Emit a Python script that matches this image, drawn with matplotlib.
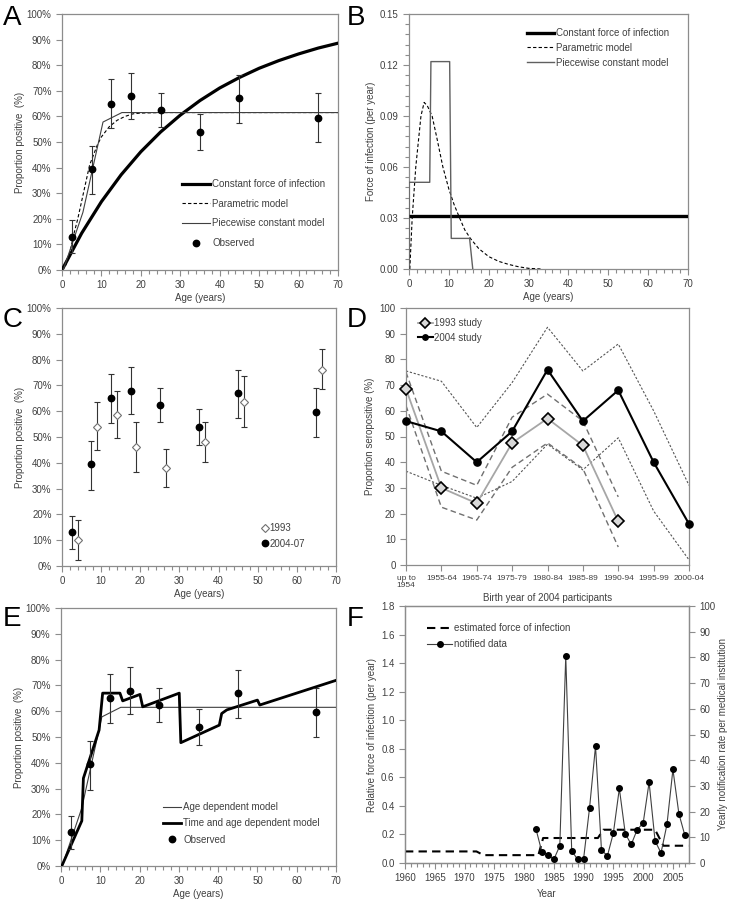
import matplotlib
matplotlib.use("Agg")
import matplotlib.pyplot as plt
from matplotlib.ticker import MultipleLocator, FuncFormatter

plt.rcParams['font.family'] = ['Liberation Sans', 'DejaVu Sans']
plt.rcParams['font.size'] = 7

# ---------------- data ----------------
# observed 2004-07
obs_age = [2.5, 7.5, 12.5, 17.5, 25, 35, 45, 65]
obs_val = [13, 39.5, 65, 68, 62.5, 54, 67, 59.5]
obs_lo = [6.5, 29.5, 55.5, 59, 56, 47, 57.5, 50]
obs_hi = [19.5, 48.5, 74.5, 77, 69, 61, 76, 69]

# observed 1993
o93_age = [4, 9, 14, 19, 26.5, 36.5, 46.5, 66.5]
o93_val = [10, 54, 58.5, 46, 38, 48, 63.5, 76]
o93_lo = [2.5, 45, 49.5, 36.5, 30.5, 40.5, 54, 68.5]
o93_hi = [18, 63.5, 68, 56, 45.5, 56, 73.5, 84]

# panel A models
const_age = [0, 5, 10, 15, 20, 25, 30, 35, 40, 45, 50, 55, 60, 65, 70]
const_val = [0, 14.4, 26.7, 37.2, 46.2, 53.9, 60.5, 66.2, 71.1, 75.2, 78.8, 81.8, 84.4, 86.7, 88.6]
param_age = [0, 1, 2, 3, 4, 5, 6, 7, 8, 9, 10, 12, 14, 16, 18, 20, 25, 70]
param_val = [0, 2, 7, 14, 20, 27, 34, 41, 45, 49, 52, 56, 58.5, 60, 61, 61.3, 61.5, 61.5]
piece_age = [0.3, 5.3, 10.4, 15.2, 70]
piece_val = [0, 22.5, 57.8, 61.5, 61.5]

# panel B force of infection
const_foi = 0.031
pfoi_age = [0.2, 0.8, 1.7, 3.0, 3.8, 4.6, 5.8, 7.0, 8.5, 10.0, 11.3, 12.7, 14.0, 15.4,
            17.5, 20, 22.5, 25, 27.5, 30, 33]
pfoi_val = [0, 0.030, 0.060, 0.090, 0.098, 0.096, 0.090, 0.077, 0.060, 0.047, 0.038, 0.030,
            0.023, 0.018, 0.012, 0.0073, 0.0045, 0.0027, 0.0013, 0.0004, 0.0]
wfoi_age = [0, 0, 5.2, 5.5, 10.2, 10.6, 15.2, 16]
wfoi_val = [0, 0.051, 0.051, 0.122, 0.122, 0.018, 0.018, 0.0]

# panel D
cohorts = ['up to\n1954', '1955-64', '1965-74', '1975-79', '1980-84', '1985-89',
           '1990-94', '1995-99', '2000-04']
s2004 = [56, 52, 40, 52, 76, 56, 68, 40, 16]
s2004_hi = [75.5, 71.5, 53.5, 71, 92.5, 75.5, 86, 60, 31]
s2004_lo = [36.5, 31, 26, 32.5, 47, 37, 49.5, 21, 2]
s1993 = [68.5, 30, 24, 47.5, 57, 46.5, 17]
s1993_hi = [75, 36.5, 31, 57.5, 66.5, 56, 26.5]
s1993_lo = [62, 22.5, 17.5, 38, 47.5, 37.5, 7]

# panel E
tad_age = [0.2, 5.3, 5.7, 9.7, 10.6, 15.0, 15.7, 20.1, 20.8, 30.1, 30.5, 40.3, 40.9, 42.2,
           50.0, 50.6, 70.5]
tad_val = [0, 17.5, 34, 52.7, 67, 67, 64, 66.5, 61.7, 67, 47.8, 54.6, 59.1, 60.5, 64.3,
           62.4, 72.2]

# panel F
foi_year = [1960, 1972.0, 1973.2, 1982.4, 1983.2, 1992.4, 1993.3, 2002.0, 2003.4, 2007.6]
foi_val = [0.081, 0.081, 0.055, 0.055, 0.175, 0.175, 0.233, 0.233, 0.121, 0.121]
not_year = list(range(1982, 2008))
not_val = [13.2, 4.2, 3.3, 1.4, 6.7, 80.5, 4.7, 1.4, 1.7, 21.5, 45.5, 5.0, 2.8, 11.7,
           29.0, 11.4, 7.2, 13.0, 15.5, 31.4, 8.6, 3.9, 15.0, 36.4, 19.2, 10.8]

# ---------------- figure ----------------
W, H = 730, 902
fig = plt.figure(figsize=(W / 100, H / 100), dpi=100)

TXT = '#404040'
SP = '#8c8c8c'


def axes_px(l, r, t, b):
    return fig.add_axes([l / W, 1 - b / H, (r - l) / W, (b - t) / H])


def style(ax):
    for s in ax.spines.values():
        s.set_color(SP)
        s.set_linewidth(0.9)
    ax.tick_params(which='both', direction='out', colors=SP, labelcolor=TXT, labelsize=7,
                   width=0.8)
    ax.tick_params(which='major', length=4)
    ax.tick_params(which='minor', length=3)


def letter(x, ybase, s):
    fig.text(x / W, 1 - ybase / H, s, fontsize=20, va='baseline', ha='left', color='black')


def legend(ax, x, ytop, **kw):
    opts = dict(loc='upper left', bbox_to_anchor=(x / W, 1 - ytop / H),
                bbox_transform=fig.transFigure, frameon=False, borderpad=0,
                borderaxespad=0, fontsize=7, handletextpad=0.2)
    opts.update(kw)
    leg = ax.legend(**opts)
    for t in leg.get_texts():
        t.set_color(TXT)
    return leg


pct = FuncFormatter(lambda v, p: '%d%%' % round(v))


def age_axes(ax):
    ax.set_xlim(0, 70)
    ax.set_ylim(0, 100)
    ax.xaxis.set_major_locator(MultipleLocator(10))
    ax.xaxis.set_minor_locator(MultipleLocator(2))
    ax.yaxis.set_major_locator(MultipleLocator(10))
    ax.yaxis.set_major_formatter(pct)
    ax.set_xlabel('Age (years)', color=TXT, fontsize=7, labelpad=2)
    ax.set_ylabel('Proportion positive  (%)', color=TXT, fontsize=7, labelpad=1)


def observed(ax, label='Observed'):
    ax.errorbar(obs_age, obs_val,
                yerr=[[v - l for v, l in zip(obs_val, obs_lo)],
                      [h - v for v, h in zip(obs_val, obs_hi)]],
                fmt='none', ecolor='#333333', elinewidth=0.8, capsize=2.2, capthick=0.8,
                zorder=4)
    ax.plot(obs_age, obs_val, 'o', color='black', ms=4.6, ls='none', label=label, zorder=5)


# ---- A ----
axA = axes_px(62, 338, 14, 270)
style(axA)
age_axes(axA)
axA.plot(const_age, const_val, color='black', lw=2.3, label='Constant force of infection',
         zorder=3)
axA.plot(param_age, param_val, color='black', lw=0.8, ls=(0, (3, 2)), label='Parametric model',
         zorder=3)
axA.plot(piece_age, piece_val, color='#404040', lw=0.8, label='Piecewise constant model',
         zorder=3)
observed(axA)
legend(axA, 182, 179, handlelength=2.9, labelspacing=1.0)
letter(3, 25, 'A')

# ---- B ----
axB = axes_px(409, 688, 14, 269)
style(axB)
axB.set_xlim(0, 70)
axB.set_ylim(0, 0.15)
axB.xaxis.set_major_locator(MultipleLocator(10))
axB.xaxis.set_minor_locator(MultipleLocator(2))
axB.yaxis.set_major_locator(MultipleLocator(0.03))
axB.yaxis.set_minor_locator(MultipleLocator(0.006))
axB.yaxis.set_major_formatter(FuncFormatter(lambda v, p: '%.2f' % v))
axB.plot([0, 70], [const_foi, const_foi], color='black', lw=2.4,
         label='Constant force of infection', zorder=3)
axB.plot(pfoi_age, pfoi_val, color='black', lw=0.8, ls=(0, (3, 2)), label='Parametric model',
         zorder=3)
axB.plot(wfoi_age, wfoi_val, color='#606060', lw=1.0, label='Piecewise constant model',
         zorder=3)
axB.set_xlabel('Age (years)', color=TXT, fontsize=7, labelpad=2)
axB.set_ylabel('Force of infection (per year)', color=TXT, fontsize=7, labelpad=3)
legend(axB, 527, 28, handlelength=2.8, labelspacing=0.5)
letter(347, 25, 'B')

# ---- C ----
axC = axes_px(62, 336, 308, 566)
style(axC)
age_axes(axC)
axC.errorbar(o93_age, o93_val,
             yerr=[[v - l for v, l in zip(o93_val, o93_lo)],
                   [h - v for v, h in zip(o93_val, o93_hi)]],
             fmt='none', ecolor='#333333', elinewidth=0.8, capsize=2.2, capthick=0.8, zorder=4)
axC.plot(o93_age, o93_val, 'D', mfc='white', mec='#707070', mew=0.8, ms=4.3, ls='none',
         label='1993', zorder=5)
observed(axC, label='2004-07')
legend(axC, 262, 523, handlelength=0.6, handletextpad=0.15, labelspacing=0.6)
letter(3, 327, 'C')

# ---- D ----
axD = axes_px(406, 689, 308, 565)
style(axD)
xi = list(range(len(cohorts)))
axD.set_xlim(0, 8)
axD.set_ylim(0, 100)
axD.yaxis.set_major_locator(MultipleLocator(10))
axD.set_xticks(xi)
axD.set_xticklabels(cohorts, fontsize=6, linespacing=0.9)
x93 = xi[:len(s1993)]
axD.plot(xi, s2004_hi, color='#555555', lw=0.8, ls=(0, (2, 1.6)), zorder=2)
axD.plot(xi, s2004_lo, color='#555555', lw=0.8, ls=(0, (2, 1.6)), zorder=2)
axD.plot(x93, s1993_hi, color='#707070', lw=1.0, ls=(0, (4, 2.5)), zorder=2)
axD.plot(x93, s1993_lo, color='#707070', lw=1.0, ls=(0, (4, 2.5)), zorder=2)
axD.plot(x93, s1993, color='#a6a6a6', lw=1.3, marker='D', mfc='#d9d9d9', mec='black',
         mew=1.2, ms=6.5, label='1993 study', zorder=4, clip_on=False)
axD.plot(xi, s2004, color='black', lw=1.5, marker='o', ms=5.2, label='2004 study', zorder=5,
         clip_on=False)
axD.set_xlabel('Birth year of 2004 participants', color=TXT, fontsize=7, labelpad=3)
axD.set_ylabel('Proportion seropositive (%)', color=TXT, fontsize=7, labelpad=3)
legend(axD, 418, 318, handlelength=1.5, handletextpad=0.1, labelspacing=0.5, markerscale=0.75)
letter(347, 327, 'D')

# ---- E ----
axE = axes_px(61, 336, 608, 866)
style(axE)
age_axes(axE)
axE.plot(piece_age, piece_val, color='#404040', lw=0.8, label='Age dependent model', zorder=3)
axE.plot(tad_age, tad_val, color='black', lw=2.0, label='Time and age dependent model',
         zorder=3)
observed(axE)
legend(axE, 163, 802, handlelength=1.9, labelspacing=0.65)
letter(3, 626, 'E')

# ---- F ----
axF = axes_px(405, 689, 606, 863)
style(axF)
axF.set_xlim(1960, 2007.7)
axF.set_ylim(0, 1.8)
axF.xaxis.set_major_locator(MultipleLocator(5))
axF.xaxis.set_minor_locator(MultipleLocator(1))
axF.yaxis.set_major_locator(MultipleLocator(0.2))
axF.yaxis.set_major_formatter(FuncFormatter(lambda v, p: '%.1f' % v))
axF2 = axF.twinx()
style(axF2)
axF2.set_ylim(0, 100)
axF2.yaxis.set_major_locator(MultipleLocator(10))
lf, = axF.plot(foi_year, foi_val, color='black', lw=1.5, ls=(0, (4, 2.5)),
               label='estimated force of infection', zorder=3)
ln, = axF2.plot(not_year, not_val, color='#404040', lw=0.8, marker='o', mfc='black',
                mec='black', ms=4, label='notified data', zorder=4)
axF.set_xlabel('Year', color=TXT, fontsize=7, labelpad=4)
axF.set_ylabel('Relative force of infection (per year)', color=TXT, fontsize=7, labelpad=3)
axF2.set_ylabel('Yearly notification rate per medical institution', color=TXT, fontsize=7,
                labelpad=2)
legend(axF2, 427, 623, handles=[lf, ln], handlelength=2.6, labelspacing=0.65)
letter(347, 626, 'F')

fig.savefig('out.png', dpi=100)
